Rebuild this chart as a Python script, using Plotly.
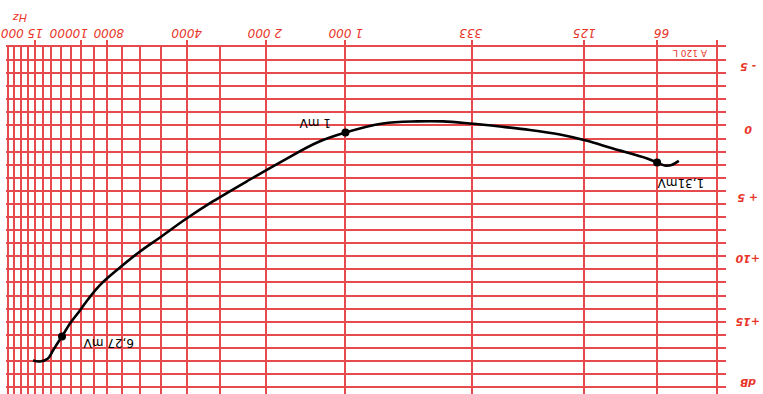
import math
import plotly.graph_objects as go

# ---- data ----
freq_hz = [15260, 14360, 13390, 12820, 12270, 11850, 11050, 10130, 9450, 8510, 7150,
           6000, 5040, 4050, 3180, 2300, 1720, 1280, 1000, 721, 536, 427, 338,
           260, 200, 154, 122.7, 97, 72, 66, 61.8, 58.2, 54.6]
level_db = [17.97, 18.04, 17.81, 17.2, 16.59, 16.13, 15.14, 14.14, 13.3, 12.2, 10.86,
            9.63, 8.56, 7.19, 5.81, 4.13, 2.68, 1.30, 0.54, -0.15, -0.31, -0.31, -0.15,
            0.08, 0.34, 0.69, 1.15, 1.76, 2.52, 2.83, 3.06, 3.02, 2.71]
marker_freq = [11850, 1000, 66]
marker_db = [16.13, 0.54, 2.83]
marker_text = ["6,27 mV", "1 mV", "1,31mV"]

x_tick_vals = [15000, 10000, 8000, 4000, 2000, 1000, 333, 125, 66, 39]
x_tick_text = ["15 000", "10000", "8000", "4000", "2 000", "1 000", "333", "125", "66", ""]
x_grid_vals = [19000, 18000, 17000, 16000, 15000, 14000, 13000, 12000, 11000, 10000,
               9000, 8000, 7000, 6000, 5000, 4000, 3000, 2000, 1000, 333, 125, 66, 39]
y_tick_vals = [-5, 0, 5, 10, 15, 20]
y_tick_text = ["- 5", "0", "+ 5", "+10", "+15", "dB"]
y_grid_vals = list(range(-6, 21))

RED = "#e64a4c"
LABEL_RED = "#e8352a"
FONT = "DejaVu Sans"
X_RANGE = [4.2858, 1.5586]

fig = go.Figure()
fig.add_trace(go.Scatter(x=freq_hz, y=level_db, mode="lines",
                         line=dict(color="black", width=2.6, shape="spline", smoothing=1.0),
                         hoverinfo="skip", showlegend=False))
fig.add_trace(go.Scatter(x=marker_freq, y=marker_db, mode="markers",
                         marker=dict(color="black", size=8), showlegend=False))
# invisible trace that activates the tick-mark axis
fig.add_trace(go.Scatter(x=[1000], y=[0], xaxis="x2", mode="markers",
                         marker=dict(opacity=0), hoverinfo="skip", showlegend=False))

# curve annotations (upside down, like the reference); log axis -> log10 position
note_shifts = [(46, -6), (-31, 9), (24, -20)]
for f, d, t, (dx, dy) in zip(marker_freq, marker_db, marker_text, note_shifts):
    fig.add_annotation(x=math.log10(f), y=d, xref="x", yref="y", text=t, showarrow=False,
                       textangle=180, xshift=dx, yshift=dy,
                       xanchor="center", yanchor="middle",
                       font=dict(family=FONT, size=12, color="black"))

# frequency labels above the top edge (upside down)
x_label_shift = [-13, -13, 2, 0, -2, 0, -1, 0, 4, 0]
for f, t, dx in zip(x_tick_vals, x_tick_text, x_label_shift):
    if t:
        fig.add_annotation(x=math.log10(f), y=1.0403, xref="x", yref="paper", text=t,
                           showarrow=False, textangle=180, xshift=dx,
                           xanchor="center", yanchor="middle",
                           font=dict(family=FONT, size=12, color=LABEL_RED, style="italic"))

# dB labels right of the grid (upside down)
y_label_shift = [-7, -4, -6, -2, 0, 4]
for v, t, dy in zip(y_tick_vals, y_tick_text, y_label_shift):
    fig.add_annotation(x=1.0306, y=v, xref="paper", yref="y", text=t,
                       showarrow=False, textangle=180, yshift=dy,
                       xanchor="center", yanchor="middle",
                       font=dict(family=FONT, size=11, color=LABEL_RED,
                                 style="italic", weight="bold"))

fig.add_annotation(x=0.0194, y=1.0865, xref="paper", yref="paper", text="Hz",
                   showarrow=False, textangle=180, xanchor="center", yanchor="middle",
                   font=dict(family=FONT, size=11, color=LABEL_RED, style="italic"))
fig.add_annotation(x=0.95, y=0.9827, xref="paper", yref="paper", text="A 120 L",
                   showarrow=False, textangle=180, xanchor="center", yanchor="middle",
                   font=dict(family=FONT, size=9, color=LABEL_RED))

fig.update_layout(
    width=763, height=394, margin=dict(l=6, r=37, t=47, b=0),
    paper_bgcolor="white", plot_bgcolor="white", showlegend=False,
    xaxis=dict(type="log", range=X_RANGE, side="top",
               tickvals=x_grid_vals, showticklabels=False, ticks="",
               showgrid=True, gridcolor=RED, gridwidth=1.5,
               showline=True, linecolor=RED, linewidth=1.5,
               zeroline=False, automargin=False),
    xaxis2=dict(type="log", range=X_RANGE, side="top", overlaying="x", anchor="y",
                tickvals=x_tick_vals, showticklabels=False,
                ticks="outside", ticklen=6, tickcolor=RED, tickwidth=1.5,
                showgrid=False, showline=False, zeroline=False, automargin=False),
    yaxis=dict(range=[20.53, -6], side="right",
               tickvals=y_grid_vals, showticklabels=False, ticks="",
               showgrid=True, gridcolor=RED, gridwidth=1.5,
               zeroline=False, showline=False, automargin=False),
)

fig.write_html("out.html", config={"displayModeBar": False},
               post_script="document.body.style.margin='0';document.body.style.overflow='hidden';")
